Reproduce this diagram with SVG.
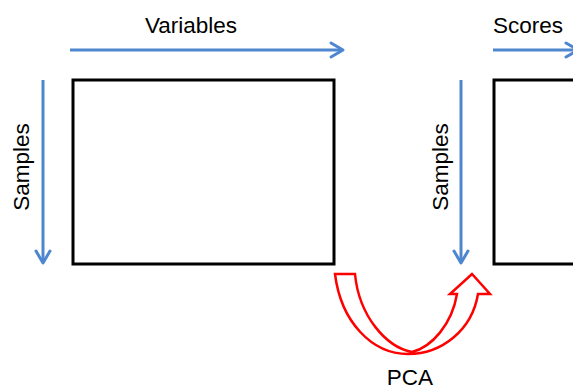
<svg xmlns="http://www.w3.org/2000/svg" width="573" height="389" viewBox="0 0 573 389">
  <style>
    .lbl { font-family: "Liberation Sans", Arial, sans-serif; font-size: 22.5px; fill: #000; }
    .axis { stroke: #4f86d0; stroke-width: 3; fill: none; }
    .head { stroke: #4f86d0; stroke-width: 3; fill: none; stroke-linecap: round; stroke-linejoin: round; }
    .matrix { fill: #fff; stroke: #000; stroke-width: 3; }
  </style>
  <rect width="573" height="389" fill="#fff"/>

  <g id="data-matrix">
    <rect class="matrix" x="73" y="80" width="261" height="184"/>
  </g>
  <g id="scores-matrix">
    <rect class="matrix" x="494" y="80" width="100" height="184"/>
  </g>

  <g id="connectors">
    <!-- variables axis -->
    <line class="axis" x1="70" y1="50" x2="342" y2="50"/>
    <polyline class="head" points="331,43 343,50 331,57"/>
    <!-- samples axis, data matrix -->
    <line class="axis" x1="43" y1="80" x2="43" y2="261"/>
    <polyline class="head" points="36,251 43,263 50,251"/>
    <!-- scores axis -->
    <line class="axis" x1="493" y1="50" x2="576" y2="50"/>
    <polyline class="head" points="566,43 578,50 566,57"/>
    <!-- samples axis, scores matrix -->
    <line class="axis" x1="461" y1="80" x2="461" y2="261"/>
    <polyline class="head" points="454,251 461,263 468,251"/>
    <!-- PCA transform arrow -->
    <path d="M335,274 H355 C359,316 386,347 412,352 C432,347 452,324 457,294 H450 L472,274 L490,294 H478 C472,330 442,354 408,354 C372,354 341,322 335,274 Z" fill="#fff" stroke="#ff0000" stroke-width="2.5" stroke-linejoin="miter"/>
  </g>

  <g id="labels">
    <text class="lbl" x="191" y="33" text-anchor="middle">Variables</text>
    <text class="lbl" x="493" y="33">Scores</text>
    <text class="lbl" transform="translate(29,167) rotate(-90)" text-anchor="middle">Samples</text>
    <text class="lbl" transform="translate(448,167) rotate(-90)" text-anchor="middle">Samples</text>
    <text class="lbl" x="410" y="385" text-anchor="middle">PCA</text>
  </g>
</svg>
